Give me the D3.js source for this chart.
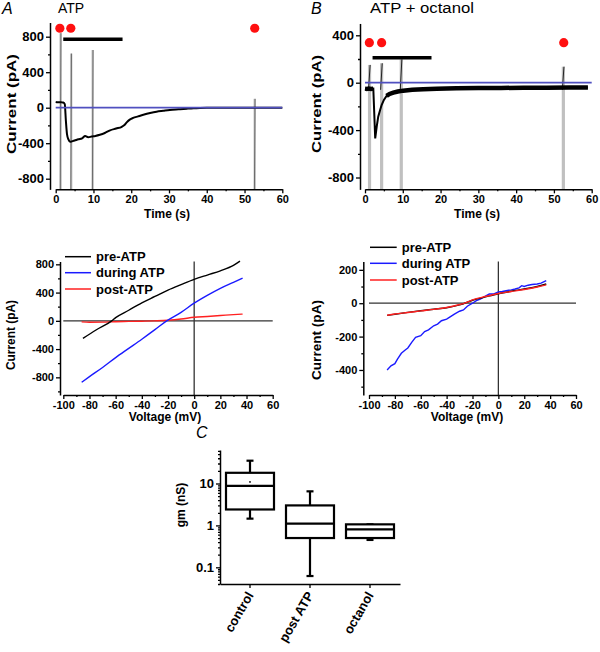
<!DOCTYPE html>
<html><head><meta charset="utf-8">
<script src="https://cdn.jsdelivr.net/npm/d3@7"></script>
<style>body{margin:0;background:#fff} text{font-family:"Liberation Sans",Arial,sans-serif}</style>
</head><body><svg id="c" width="600" height="652"></svg>
<script>
// ---------- DATA ----------
// Panel A trace (time s, current pA)
const timeA = [0,0.5,1.0,1.6,2.0,2.4,2.7,3.0,3.4,3.8,4.2,5.0,6.0,7.0,7.8,8.6,9.5,10.5,11.7,13.0,14.4,16.0,17.5,18.2,18.8,19.6,20.5,21.8,23.2,25.0,26.7,28.5,30.2,32.5,34.7,36.5,38.2,40,45,50,55,60];
const currentA = [65,62,62,60,58,40,-150,-300,-360,-385,-380,-370,-356,-345,-320,-334,-325,-318,-305,-285,-255,-235,-215,-195,-165,-135,-115,-98,-80,-60,-45,-35,-26,-18,-11,-6,-3,-1,0,0,0,0];
const spikeTimesA = [1.3,4.1,9.8,52.7];
const spikeTopsA = [840,610,650,100];
const dotTimesA = [1.1,4.0,52.7];
const barA = [2.0,17.7];
// Panel B trace
const timeB = [0,0.5,1.0,1.6,2.2,2.5,2.7,3.1,3.5,4.0,4.4,5.0,5.7,6.5,7.5,8.7,10.1,12.5,15.4,19,24.2,30,36,42,48,54,59];
const currentB = [-50,-52,-50,-53,-50,-300,-470,-371,-287,-230,-188,-145,-112,-95,-84,-74,-67,-60,-56,-51,-47,-45,-44,-43,-42,-41,-40];
const spikeTimesB = [1.2,4.4,9.6,52.5];
const spikeTopsB = [150,164,197,135];
const dotTimesB = [1.15,4.4,52.6];
const barB = [2.0,17.6];
// I-V, panel A
const voltA = [-85,-75,-63,-60,-50,-40,-30,-20,-10,0,10,20,30,35];
const preA = [-249,-130,0,45,150,255,345,435,512,586,648,708,785,845];
const voltDurA = [-86,-80,-70,-60,-50,-40,-30,-21,-10,0,10,20,30,37];
const duringA = [-870,-790,-660,-520,-390,-260,-125,0,120,250,360,460,545,605];
const voltPostA = [-86,-80,-70,-60,-50,-40,-30,-20,-10,0,10,20,30,37];
const postA = [-15,-20,-18,-12,-8,-5,0,8,25,50,62,75,88,95];
// I-V, panel B
const voltB = [-86,-80,-70,-60,-50,-40,-30,-27,-20,-10,0,10,20,30,37];
const preB = [-73,-66,-55,-45,-36,-27,-10,-3,18,38,57,72,85,100,115];
const postB = [-72,-65,-56,-46,-37,-26,-8,-2,20,40,58,70,82,97,110];
const voltDurB = [-86,-83,-80,-78,-75,-72,-70,-67,-64,-60,-57,-54,-50,-47,-44,-40,-37,-34,-30,-27,-24,-20,-17,-14,-10,-7,-4,0,3,6,10,13,16,18,20,23,26,30,33,37];
const duringB = [-400,-375,-362,-335,-300,-280,-268,-235,-205,-195,-170,-160,-135,-125,-105,-95,-80,-65,-48,-40,-18,0,15,25,42,55,55,68,70,75,80,85,92,105,100,108,112,115,120,135];
const legendLabels = ["pre-ATP","during ATP","post-ATP"];
const legendColors = ["#000000","#1a1aff","#ff2020"];
// Panel C box plot (gm, nS)
const groups = ["control","post ATP","octanol"];
const whiskerLow = [1.45,0.062,0.45];
const q1 = [2.4,0.5,0.5];
const medians = [8.8,1.1,0.8];
const q3 = [18,3.0,1.06];
const whiskerHigh = [35,6.5,1.06];
const means = [10.9,null,null];
// ticks
const timeTicks = [0,10,20,30,40,50,60];
const ivXTicks = [-100,-80,-60,-40,-20,0,20,40,60];

// ---------- DRAW ----------
const svg = d3.select("#c");
const FONT = '"Liberation Sans",Arial,sans-serif';

function styleAxis(g, fs){
  g.selectAll(".domain").attr("stroke","#000").attr("stroke-width",1.5);
  g.selectAll(".tick line").attr("stroke","#000").attr("stroke-width",1.3);
  g.selectAll("text").attr("font-family",FONT).attr("font-weight","bold").attr("font-size",fs).attr("fill","#000");
}
function yAxis(scale, x, majors, minors, fs, fmt){
  const g = svg.append("g").attr("transform",`translate(${x},0)`);
  g.call(d3.axisLeft(scale).tickValues(majors).tickSize(4).tickSizeOuter(0).tickPadding(2).tickFormat(fmt||(d=>String(d))));
  const m = g.append("g").call(d3.axisLeft(scale).tickValues(minors).tickSize(2).tickFormat(""));
  m.select(".domain").remove();
  styleAxis(g, fs);
  return g;
}
function xAxis(scale, y, majors, minors, fs){
  const g = svg.append("g").attr("transform",`translate(0,${y})`);
  g.call(d3.axisBottom(scale).tickValues(majors).tickSize(4).tickSizeOuter(0).tickPadding(2).tickFormat(d=>String(d)));
  if(minors){
    const m = g.append("g").call(d3.axisBottom(scale).tickValues(minors).tickSize(2).tickFormat(""));
    m.select(".domain").remove();
  }
  styleAxis(g, fs);
  return g;
}
function label(txt, x, y, fs, opts={}){
  const t = svg.append("text").attr("x",x).attr("y",y).text(txt)
    .attr("font-family",FONT).attr("font-size",fs)
    .attr("font-weight",opts.weight||"bold").attr("fill","#000")
    .attr("text-anchor",opts.anchor||"start");
  if(opts.italic) t.attr("font-style","italic");
  if(opts.rotate!=null) t.attr("transform",`rotate(${opts.rotate},${x},${y})`);
  if(opts.len) t.attr("textLength",opts.len).attr("lengthAdjust","spacingAndGlyphs");
  return t;
}
const minorsTime = d3.range(5,60,10);

// ===== Panel A (time course) =====
{
  const x = d3.scaleLinear().domain([0,60]).range([55.7,282.3]);
  const y = d3.scaleLinear().domain([-920,960]).range([189.35,22.5]);
  spikeTimesA.forEach((t,i)=>{
    svg.append("rect").attr("x",x(t)-1.2).attr("width",2.4)
      .attr("y",y(spikeTopsA[i])).attr("height",y(-920)-y(spikeTopsA[i]))
      .attr("fill","#c4c4c4");
    svg.append("line").attr("x1",x(t)-0.3).attr("x2",x(t)+0.3)
      .attr("y1",y(-920)).attr("y2",y(spikeTopsA[i]))
      .attr("stroke","#555").attr("stroke-width",0.8);
  });
  const line = d3.line().x((d,i)=>x(timeA[i])).y(d=>y(d)).curve(d3.curveMonotoneX);
  svg.append("path").attr("d",line(currentA)).attr("fill","none").attr("stroke","#000").attr("stroke-width",2);
  svg.append("line").attr("x1",x(0)).attr("x2",x(60)).attr("y1",y(0)).attr("y2",y(0))
    .attr("stroke","#5050c0").attr("stroke-width",1.7);
  dotTimesA.forEach(t=>svg.append("circle").attr("cx",x(t)).attr("cy",y(895)).attr("r",4.6).attr("fill","#ff1010"));
  svg.append("line").attr("x1",x(barA[0])).attr("x2",x(barA[1])).attr("y1",y(770)).attr("y2",y(770))
    .attr("stroke","#000").attr("stroke-width",3.5);
  yAxis(y, 50, [-800,-400,0,400,800], [-600,-200,200,600], 13);
  xAxis(x, 189.35, timeTicks, minorsTime, 11);
  label("Time (s)", 167, 218, 12, {anchor:"middle"});
  label("Current (pA)", 16, 104, 13, {anchor:"middle", rotate:-90, len:100});
  label("A", 2, 14, 16, {italic:true, weight:"normal"});
  label("ATP", 58, 13, 14, {weight:"normal"});
}

// ===== Panel B (time course) =====
{
  const x = d3.scaleLinear().domain([0,60]).range([365,591.7]);
  const y = d3.scaleLinear().domain([-900,500]).range([189.35,23.45]);
  spikeTimesB.forEach((t,i)=>{
    svg.append("rect").attr("x",x(t)-1.6).attr("width",3.2)
      .attr("y",y(spikeTopsB[i])).attr("height",y(-900)-y(spikeTopsB[i]))
      .attr("fill","#c0c0c0");
    svg.append("line").attr("x1",x(t)-1).attr("x2",x(t)+0.6)
      .attr("y1",y(-60)).attr("y2",y(spikeTopsB[i]))
      .attr("stroke","#222").attr("stroke-width",1);
  });
  const line = d3.line().x((d,i)=>x(timeB[i])).y(d=>y(d));
  svg.append("path").attr("d",line(currentB)).attr("fill","none").attr("stroke","#000").attr("stroke-width",2);
  const thick = d3.line().defined((d,i)=>timeB[i]>=5.7 || timeB[i]<=2.2).x((d,i)=>x(timeB[i])).y(d=>y(d));
  svg.append("path").attr("d",thick(currentB)).attr("fill","none").attr("stroke","#000").attr("stroke-width",4.5);
  svg.append("line").attr("x1",x(0)).attr("x2",x(60)).attr("y1",y(0)).attr("y2",y(0))
    .attr("stroke","#5050c0").attr("stroke-width",1.7);
  dotTimesB.forEach(t=>svg.append("circle").attr("cx",x(t)).attr("cy",y(338)).attr("r",4.6).attr("fill","#ff1010"));
  svg.append("line").attr("x1",x(barB[0])).attr("x2",x(barB[1])).attr("y1",y(211)).attr("y2",y(211))
    .attr("stroke","#000").attr("stroke-width",3.5);
  yAxis(y, 360, [-800,-400,0,400], [-600,-200,200], 13);
  xAxis(x, 189.35, timeTicks, minorsTime, 11);
  label("Time (s)", 477, 218, 12, {anchor:"middle"});
  label("Current (pA)", 321, 104, 13, {anchor:"middle", rotate:-90, len:98});
  label("B", 311, 14, 16, {italic:true, weight:"normal"});
  label("ATP + octanol", 370, 13, 14, {weight:"normal", len:104});
}

// ===== I-V panels =====
function ivPanel(cfg){
  const x = d3.scaleLinear().domain([-100,60]).range(cfg.xr);
  const y = d3.scaleLinear().domain(cfg.yd).range([395,261.5]);
  svg.append("line").attr("x1",x(-100)).attr("x2",x(60)).attr("y1",y(0)).attr("y2",y(0)).attr("stroke","#333").attr("stroke-width",1.3);
  svg.append("line").attr("x1",x(0)).attr("x2",x(0)).attr("y1",y(cfg.yd[1])).attr("y2",395).attr("stroke","#333").attr("stroke-width",1.3);
  cfg.series.forEach(s=>{
    const l = d3.line().x((d,i)=>x(s.v[i])).y(d=>y(d)).curve(s.curve||d3.curveMonotoneX);
    svg.append("path").attr("d",l(s.c)).attr("fill","none").attr("stroke",s.color).attr("stroke-width",1.4);
  });
  yAxis(y, cfg.yx, cfg.ymaj, cfg.ymin, 11);
  xAxis(x, 395, ivXTicks, d3.range(-90,60,20), 11);
  label("Voltage (mV)", cfg.vlx, 421, 12, {anchor:"middle"});
  label("Current (pA)", cfg.clx, cfg.cly, 12, {anchor:"middle", rotate:-90, len:cfg.clen});
  legendLabels.forEach((t,i)=>{
    const ly = cfg.legY[i];
    svg.append("line").attr("x1",cfg.legX[0]).attr("x2",cfg.legX[1]).attr("y1",ly).attr("y2",ly)
      .attr("stroke",legendColors[i]).attr("stroke-width",1.5);
    label(t, cfg.legX[1]+5, ly+4.5, 13);
  });
}
ivPanel({xr:[63.3,272.7], yd:[-1050,840], yx:60,
  ymaj:[-800,-400,0,400,800], ymin:[-1000,-600,-200,200,600],
  vlx:165, clx:15, cly:335, clen:70,
  legX:[65,91], legY:[256.7,272.7,289],
  series:[
    {v:voltPostA, c:postA, color:"#ff2020"},
    {v:voltDurA, c:duringA, color:"#1a1aff"},
    {v:voltA, c:preA, color:"#000"}
  ]});
ivPanel({xr:[369,576], yd:[-550,250], yx:363.3,
  ymaj:[-400,-200,0,200], ymin:[-500,-300,-100,100],
  vlx:467, clx:321, cly:340, clen:80,
  legX:[370,396.7], legY:[247.3,263.3,280],
  series:[
    {v:voltDurB, c:duringB, color:"#1a1aff", curve:d3.curveLinear},
    {v:voltB, c:preB, color:"#000"},
    {v:voltB, c:postB, color:"#ff2020"}
  ]});

// ===== Panel C box plot =====
{
  const x = d3.scaleBand().domain(groups).range([220,400]);
  const y = d3.scaleLog().domain([0.04,63]).range([584,450]);
  const bw = 48, cap = 7;
  groups.forEach((gname,i)=>{
    const cx = x(gname)+x.bandwidth()/2;
    const g = svg.append("g").attr("stroke","#000").attr("stroke-width",2.2).attr("fill","none");
    g.append("line").attr("x1",cx).attr("x2",cx).attr("y1",y(whiskerHigh[i])).attr("y2",y(q3[i]));
    g.append("line").attr("x1",cx).attr("x2",cx).attr("y1",y(q1[i])).attr("y2",y(whiskerLow[i]));
    g.append("line").attr("x1",cx-cap/2).attr("x2",cx+cap/2).attr("y1",y(whiskerHigh[i])).attr("y2",y(whiskerHigh[i]));
    g.append("line").attr("x1",cx-cap/2).attr("x2",cx+cap/2).attr("y1",y(whiskerLow[i])).attr("y2",y(whiskerLow[i]));
    g.append("rect").attr("x",cx-bw/2).attr("width",bw).attr("y",y(q3[i])).attr("height",y(q1[i])-y(q3[i])).attr("fill","#fff");
    g.append("line").attr("x1",cx-bw/2).attr("x2",cx+bw/2).attr("y1",y(medians[i])).attr("y2",y(medians[i]));
    if(means[i]!=null) svg.append("circle").attr("cx",cx).attr("cy",y(means[i])).attr("r",0.9).attr("fill","#000");
  });
  const majors = [0.1,1,10];
  const minors = [];
  [0.01,0.1,1,10].forEach(dec=>{ for(let k=2;k<=9;k++){ const v=dec*k; if(v>=0.04 && v<=63) minors.push(v);} });
  yAxis(y, 220, majors, minors, 13, d=>String(d));
  const gx = svg.append("g").attr("transform","translate(0,584)");
  gx.call(d3.axisBottom(x).tickSize(4).tickSizeOuter(0).tickFormat(""));
  styleAxis(gx, 12);
  groups.forEach(gname=>{
    const cx = x(gname)+x.bandwidth()/2;
    label(gname, cx+4, 595, 13, {anchor:"end", rotate:-60});
  });
  label("gm (nS)", 185, 505, 12, {anchor:"middle", rotate:-90});
  label("C", 196, 438, 16, {italic:true, weight:"normal"});
}
</script></body></html>
